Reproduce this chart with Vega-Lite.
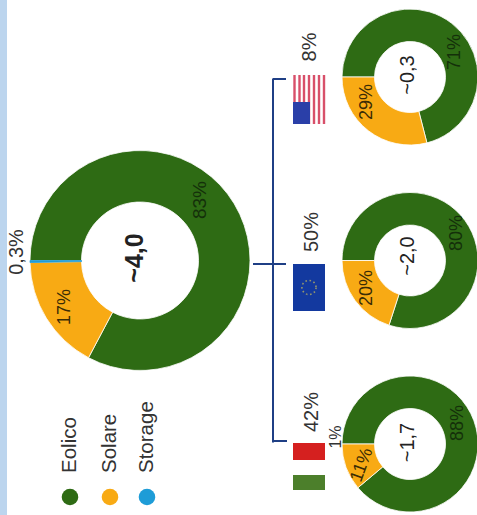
{"$schema":"https://vega.github.io/schema/vega-lite/v6.json","width":477,"height":515,"padding":0,"autosize":{"type":"none"},"background":"#ffffff","config":{"view":{"stroke":null},"text":{"font":"Liberation Sans"}},
"datasets":{
"quote":[
{"donut":"Totale","colonna":"totale","riga":"UE","serie":"Eolico","valore":83,"etichetta":"83%"},
{"donut":"Totale","colonna":"totale","riga":"UE","serie":"Solare","valore":17,"etichetta":"17%"},
{"donut":"Totale","colonna":"totale","riga":"UE","serie":"Storage","valore":0.3,"etichetta":"0,3%"},
{"donut":"USA","colonna":"regioni","riga":"USA","serie":"Eolico","valore":71,"etichetta":"71%"},
{"donut":"USA","colonna":"regioni","riga":"USA","serie":"Solare","valore":29,"etichetta":"29%"},
{"donut":"UE","colonna":"regioni","riga":"UE","serie":"Eolico","valore":80,"etichetta":"80%"},
{"donut":"UE","colonna":"regioni","riga":"UE","serie":"Solare","valore":20,"etichetta":"20%"},
{"donut":"Italia","colonna":"regioni","riga":"Italia","serie":"Eolico","valore":88,"etichetta":"88%"},
{"donut":"Italia","colonna":"regioni","riga":"Italia","serie":"Solare","valore":11,"etichetta":"11%"},
{"donut":"Italia","colonna":"regioni","riga":"Italia","serie":"Storage","valore":1,"etichetta":"1%"}],
"centri":[
{"donut":"Totale","colonna":"totale","riga":"UE","etichetta":"~4,0"},
{"donut":"USA","colonna":"regioni","riga":"USA","etichetta":"~0,3"},
{"donut":"UE","colonna":"regioni","riga":"UE","etichetta":"~2,0"},
{"donut":"Italia","colonna":"regioni","riga":"Italia","etichetta":"~1,7"}],
"rami":[
{"colonna":"ramo","riga":"USA","etichetta":"8%"},
{"colonna":"ramo","riga":"UE","etichetta":"50%"},
{"colonna":"ramo","riga":"Italia","etichetta":"42%"}],
"legenda":[
{"colonna":"totale","riga":"Italia","serie":"Eolico"},
{"colonna":"totale","riga":"Italia","serie":"Solare"},
{"colonna":"totale","riga":"Italia","serie":"Storage"}]},
"encoding":{
"x":{"field":"colonna","type":"nominal","axis":null,"scale":{"type":"point","domain":["totale","ramo","regioni"],"range":[140,410],"padding":0}},
"y":{"field":"riga","type":"nominal","axis":null,"scale":{"type":"point","domain":["USA","UE","Italia"],"range":[77,444],"padding":0}}},
"layer":[
{"data":{"name":"rami"},"transform":[{"filter":"datum.riga=='UE'"}],"mark":{"type":"rect","width":7,"height":530,"color":"#bcd5ee","xOffset":-271.5}},
{"data":{"name":"quote"},"transform":[{"filter":"datum.donut=='Totale'"}],
 "mark":{"type":"arc","radius":110,"radius2":58.5},
 "encoding":{"theta":{"field":"valore","type":"quantitative","stack":"normalize","scale":{"domain":[0,1],"range":[4.712389,10.995574]}},
 "order":{"field":"serie","type":"nominal"},
 "color":{"field":"serie","type":"nominal","legend":null,"scale":{"domain":["Eolico","Solare","Storage"],"range":["#2e6b14","#f8aa14","#1e9cd7"]}},
 "stroke":{"field":"serie","type":"nominal","legend":null,"scale":{"domain":["Eolico","Solare","Storage"],"range":["#ffffff","#ffffff","#1e9cd7"]}},
 "strokeWidth":{"field":"serie","type":"nominal","legend":null,"scale":{"domain":["Eolico","Solare","Storage"],"range":[0.8,0.8,5.5]}}}},
{"data":{"name":"quote"},"transform":[{"filter":"datum.donut=='USA'"}],
 "mark":{"type":"arc","radius":68,"radius2":35.5,"stroke":"#ffffff","strokeWidth":0.8},
 "encoding":{"theta":{"field":"valore","type":"quantitative","stack":"normalize","scale":{"domain":[0,1],"range":[4.712389,10.995574]}},"order":{"field":"serie","type":"nominal"},"color":{"field":"serie","type":"nominal","legend":null,"scale":{"domain":["Eolico","Solare","Storage"],"range":["#2e6b14","#f8aa14","#1e9cd7"]}}}},
{"data":{"name":"quote"},"transform":[{"filter":"datum.donut=='UE'"}],
 "mark":{"type":"arc","radius":68,"radius2":35.5,"stroke":"#ffffff","strokeWidth":0.8},
 "encoding":{"theta":{"field":"valore","type":"quantitative","stack":"normalize","scale":{"domain":[0,1],"range":[4.712389,10.995574]}},"order":{"field":"serie","type":"nominal"},"color":{"field":"serie","type":"nominal","legend":null,"scale":{"domain":["Eolico","Solare","Storage"],"range":["#2e6b14","#f8aa14","#1e9cd7"]}}}},
{"data":{"name":"quote"},"transform":[{"filter":"datum.donut=='Italia' && datum.serie!='Storage'"}],
 "mark":{"type":"arc","radius":68,"radius2":35.5,"stroke":"#ffffff","strokeWidth":0.8},
 "encoding":{"theta":{"field":"valore","type":"quantitative","stack":"normalize","scale":{"domain":[0,1],"range":[4.712389,10.995574]}},"order":{"field":"serie","type":"nominal"},"color":{"field":"serie","type":"nominal","legend":null,"scale":{"domain":["Eolico","Solare","Storage"],"range":["#2e6b14","#f8aa14","#1e9cd7"]}}}},

{"data":{"name":"rami"},"transform":[{"filter":"datum.riga=='UE'"}],"mark":{"type":"rect","color":"#1f3f85","width":2,"height":364,"xOffset":-2}},
{"data":{"name":"rami"},"transform":[{"filter":"datum.riga=='USA'"}],"mark":{"type":"rect","color":"#1f3f85","width":13,"height":2,"xOffset":4.5,"yOffset":2}},
{"data":{"name":"rami"},"transform":[{"filter":"datum.riga=='UE'"}],"mark":{"type":"rect","color":"#1f3f85","width":33,"height":2,"xOffset":-5.5,"yOffset":3.5}},
{"data":{"name":"rami"},"transform":[{"filter":"datum.riga=='Italia'"}],"mark":{"type":"rect","color":"#1f3f85","width":14,"height":2,"xOffset":5,"yOffset":-3}},

{"data":{"name":"rami"},"transform":[{"filter":"datum.riga=='USA'"}],"mark":{"type":"rect","color":"#d8506a","width":2.4,"height":49,"xOffset":19.5,"yOffset":22.5}},
{"data":{"name":"rami"},"transform":[{"filter":"datum.riga=='USA'"}],"mark":{"type":"rect","color":"#d8506a","width":2.4,"height":49,"xOffset":24.5,"yOffset":22.5}},
{"data":{"name":"rami"},"transform":[{"filter":"datum.riga=='USA'"}],"mark":{"type":"rect","color":"#d8506a","width":2.4,"height":49,"xOffset":29,"yOffset":22.5}},
{"data":{"name":"rami"},"transform":[{"filter":"datum.riga=='USA'"}],"mark":{"type":"rect","color":"#d8506a","width":2.4,"height":49,"xOffset":34,"yOffset":22.5}},
{"data":{"name":"rami"},"transform":[{"filter":"datum.riga=='USA'"}],"mark":{"type":"rect","color":"#d8506a","width":2.4,"height":49,"xOffset":39,"yOffset":22.5}},
{"data":{"name":"rami"},"transform":[{"filter":"datum.riga=='USA'"}],"mark":{"type":"rect","color":"#d8506a","width":2.4,"height":49,"xOffset":44,"yOffset":22.5}},
{"data":{"name":"rami"},"transform":[{"filter":"datum.riga=='USA'"}],"mark":{"type":"rect","color":"#d8506a","width":2.4,"height":49,"xOffset":49,"yOffset":22.5}},
{"data":{"name":"rami"},"transform":[{"filter":"datum.riga=='USA'"}],"mark":{"type":"rect","color":"#2a3fa8","width":17,"height":22,"xOffset":26.5,"yOffset":36}},
{"data":{"name":"rami"},"transform":[{"filter":"datum.riga=='UE'"}],"mark":{"type":"rect","color":"#13399f","width":32,"height":47,"xOffset":34,"yOffset":27}},
{"data":{"name":"rami"},"transform":[{"filter":"datum.riga=='UE'"}],"mark":{"type":"point","shape":"circle","filled":false,"size":200,"stroke":"#c9bc5a","strokeWidth":1.6,"strokeDash":[1.6,2.6],"xOffset":34,"yOffset":27}},
{"data":{"name":"rami"},"transform":[{"filter":"datum.riga=='Italia'"}],"mark":{"type":"rect","color":"#d5201f","width":32,"height":17,"xOffset":34,"yOffset":7.5}},
{"data":{"name":"rami"},"transform":[{"filter":"datum.riga=='Italia'"}],"mark":{"type":"rect","color":"#4c7f2b","width":32,"height":15,"xOffset":34,"yOffset":38.5}},

{"data":{"name":"rami"},"transform":[{"filter":"datum.riga=='USA'"}],"mark":{"type":"text","angle":270,"align":"center","baseline":"middle","fontSize":20,"color":"#333333","xOffset":35,"yOffset":-30},"encoding":{"text":{"field":"etichetta"}}},
{"data":{"name":"rami"},"transform":[{"filter":"datum.riga=='UE'"}],"mark":{"type":"text","angle":270,"align":"center","baseline":"middle","fontSize":20,"color":"#333333","xOffset":37,"yOffset":-28.5},"encoding":{"text":{"field":"etichetta"}}},
{"data":{"name":"rami"},"transform":[{"filter":"datum.riga=='Italia'"}],"mark":{"type":"text","angle":270,"align":"center","baseline":"middle","fontSize":20,"color":"#333333","xOffset":37,"yOffset":-32},"encoding":{"text":{"field":"etichetta"}}},

{"data":{"name":"centri"},"transform":[{"filter":"datum.donut=='Totale'"}],"mark":{"type":"text","angle":270,"align":"center","baseline":"middle","fontSize":25,"fontWeight":"bold","color":"#222222","xOffset":-5,"yOffset":-2.5},"encoding":{"text":{"field":"etichetta"}}},
{"data":{"name":"centri"},"transform":[{"filter":"datum.donut=='USA'"}],"mark":{"type":"text","angle":270,"align":"center","baseline":"middle","fontSize":20,"color":"#222222","xOffset":-2,"yOffset":-2},"encoding":{"text":{"field":"etichetta"}}},
{"data":{"name":"centri"},"transform":[{"filter":"datum.donut=='UE'"}],"mark":{"type":"text","angle":270,"align":"center","baseline":"middle","fontSize":20,"color":"#222222","xOffset":-2,"yOffset":-4.5},"encoding":{"text":{"field":"etichetta"}}},
{"data":{"name":"centri"},"transform":[{"filter":"datum.donut=='Italia'"}],"mark":{"type":"text","angle":270,"align":"center","baseline":"middle","fontSize":20,"color":"#222222","xOffset":-2,"yOffset":-1.5},"encoding":{"text":{"field":"etichetta"}}},

{"data":{"name":"quote"},"transform":[{"filter":"datum.donut=='Totale' && datum.serie=='Eolico'"}],"mark":{"type":"text","angle":270,"align":"center","baseline":"middle","fontSize":19,"color":"#14300a","xOffset":60,"yOffset":-60.5},"encoding":{"text":{"field":"etichetta"}}},
{"data":{"name":"quote"},"transform":[{"filter":"datum.donut=='Totale' && datum.serie=='Solare'"}],"mark":{"type":"text","angle":270,"align":"center","baseline":"middle","fontSize":18,"color":"#3a2c05","xOffset":-75,"yOffset":46.5},"encoding":{"text":{"field":"etichetta"}}},
{"data":{"name":"quote"},"transform":[{"filter":"datum.donut=='Totale' && datum.serie=='Storage'"}],"mark":{"type":"text","angle":270,"align":"center","baseline":"middle","fontSize":20,"color":"#333333","xOffset":-123,"yOffset":-8.5},"encoding":{"text":{"field":"etichetta"}}},
{"data":{"name":"quote"},"transform":[{"filter":"datum.donut=='USA' && datum.serie=='Eolico'"}],"mark":{"type":"text","angle":270,"align":"center","baseline":"middle","fontSize":18,"color":"#14300a","xOffset":45,"yOffset":-25},"encoding":{"text":{"field":"etichetta"}}},
{"data":{"name":"quote"},"transform":[{"filter":"datum.donut=='USA' && datum.serie=='Solare'"}],"mark":{"type":"text","angle":270,"align":"center","baseline":"middle","fontSize":18,"color":"#3a2c05","xOffset":-43,"yOffset":25},"encoding":{"text":{"field":"etichetta"}}},
{"data":{"name":"quote"},"transform":[{"filter":"datum.donut=='UE' && datum.serie=='Eolico'"}],"mark":{"type":"text","angle":270,"align":"center","baseline":"middle","fontSize":18,"color":"#14300a","xOffset":47,"yOffset":-27.5},"encoding":{"text":{"field":"etichetta"}}},
{"data":{"name":"quote"},"transform":[{"filter":"datum.donut=='UE' && datum.serie=='Solare'"}],"mark":{"type":"text","angle":270,"align":"center","baseline":"middle","fontSize":18,"color":"#3a2c05","xOffset":-43,"yOffset":27.5},"encoding":{"text":{"field":"etichetta"}}},
{"data":{"name":"quote"},"transform":[{"filter":"datum.donut=='Italia' && datum.serie=='Eolico'"}],"mark":{"type":"text","angle":270,"align":"center","baseline":"middle","fontSize":18,"color":"#14300a","xOffset":48,"yOffset":-21},"encoding":{"text":{"field":"etichetta"}}},
{"data":{"name":"quote"},"transform":[{"filter":"datum.donut=='Italia' && datum.serie=='Solare'"}],"mark":{"type":"text","angle":290,"align":"center","baseline":"middle","fontSize":18,"color":"#3a2c05","xOffset":-48,"yOffset":21},"encoding":{"text":{"field":"etichetta"}}},
{"data":{"name":"quote"},"transform":[{"filter":"datum.donut=='Italia' && datum.serie=='Storage'"}],"mark":{"type":"text","angle":270,"align":"center","baseline":"middle","fontSize":16,"color":"#333333","xOffset":-74,"yOffset":-7},"encoding":{"text":{"field":"etichetta"}}},

{"data":{"name":"legenda"},"transform":[{"filter":"datum.serie=='Eolico'"}],"mark":{"type":"circle","size":275,"opacity":1,"xOffset":-70,"yOffset":53},"encoding":{"color":{"field":"serie","type":"nominal","legend":null,"scale":{"domain":["Eolico","Solare","Storage"],"range":["#2e6b14","#f8aa14","#1e9cd7"]}}}},
{"data":{"name":"legenda"},"transform":[{"filter":"datum.serie=='Solare'"}],"mark":{"type":"circle","size":275,"opacity":1,"xOffset":-30,"yOffset":53},"encoding":{"color":{"field":"serie","type":"nominal","legend":null,"scale":{"domain":["Eolico","Solare","Storage"],"range":["#2e6b14","#f8aa14","#1e9cd7"]}}}},
{"data":{"name":"legenda"},"transform":[{"filter":"datum.serie=='Storage'"}],"mark":{"type":"circle","size":275,"opacity":1,"xOffset":7,"yOffset":53},"encoding":{"color":{"field":"serie","type":"nominal","legend":null,"scale":{"domain":["Eolico","Solare","Storage"],"range":["#2e6b14","#f8aa14","#1e9cd7"]}}}},
{"data":{"name":"legenda"},"transform":[{"filter":"datum.serie=='Eolico'"}],"mark":{"type":"text","angle":270,"align":"left","baseline":"middle","fontSize":20.5,"color":"#333333","xOffset":-70,"yOffset":29},"encoding":{"text":{"field":"serie"}}},
{"data":{"name":"legenda"},"transform":[{"filter":"datum.serie=='Solare'"}],"mark":{"type":"text","angle":270,"align":"left","baseline":"middle","fontSize":20.5,"color":"#333333","xOffset":-30,"yOffset":29},"encoding":{"text":{"field":"serie"}}},
{"data":{"name":"legenda"},"transform":[{"filter":"datum.serie=='Storage'"}],"mark":{"type":"text","angle":270,"align":"left","baseline":"middle","fontSize":20.5,"color":"#333333","xOffset":7,"yOffset":29},"encoding":{"text":{"field":"serie"}}}
]}
